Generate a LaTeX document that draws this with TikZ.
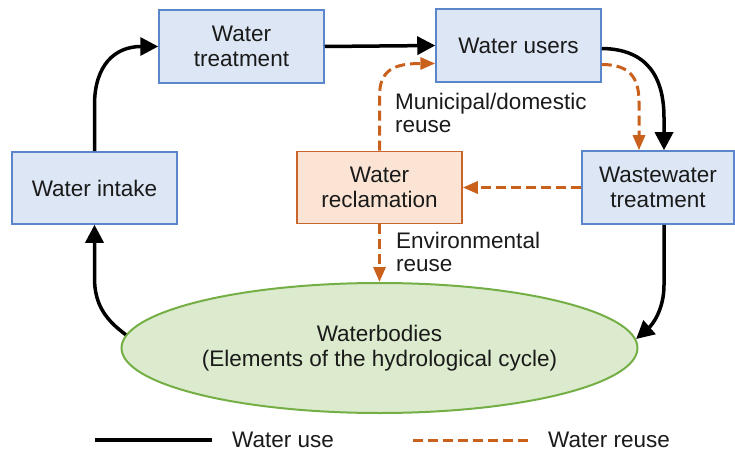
\documentclass[tikz,border=0pt]{standalone}
\usepackage{fontspec}
\setmainfont{Liberation Sans}
\usetikzlibrary{arrows.meta,shapes.geometric}
\definecolor{bfill}{HTML}{DCE6F4}
\definecolor{bdraw}{HTML}{5A86CC}
\definecolor{ofill}{HTML}{FCE4D4}
\definecolor{odraw}{HTML}{C8652A}
\definecolor{gfill}{HTML}{DCEBCD}
\definecolor{gdraw}{HTML}{74AF46}
\definecolor{oline}{HTML}{C9611C}
\definecolor{txt}{HTML}{1A1A1A}
\begin{document}
\begin{tikzpicture}[x=1pt,y=-1pt,
  every node/.style={text=txt, font=\fontsize{22.5}{25}\selectfont},
  bluebox/.style={draw=bdraw, fill=bfill, line width=1.5pt, minimum width=165pt, minimum height=73pt, align=center, inner sep=0pt},
  orangebox/.style={draw=odraw, fill=ofill, line width=1.5pt, minimum width=165pt, minimum height=72pt, align=center, inner sep=0pt},
  waterbody/.style={ellipse, draw=gdraw, fill=gfill, line width=2pt, minimum width=516pt, minimum height=130pt, align=center, inner sep=0pt},
  useline/.style={draw=black, line width=3.5pt, -{Triangle[length=18pt 0,width=18pt 0]}},
  reuseline/.style={draw=oline, line width=3pt, dash pattern=on 10pt off 5pt, -{Triangle[length=15pt 0,width=12pt 0]}},
  lbl/.style={align=left, inner sep=0pt, font=\fontsize{22.5}{23}\selectfont}
]
\useasboundingbox (0,0) rectangle (735,454);

\node[bluebox] (treat) at (241.5,46.5) {Water\\treatment};
\node[bluebox] (users) at (518.5,45.5) {Water users};
\node[bluebox, minimum height=72pt] (intake) at (94.5,188) {Water intake};
\node[orangebox] (recl) at (379.5,187.5) {Water\\reclamation};
\node[bluebox, minimum width=152pt] (waste) at (658,187.5) {Wastewater\\treatment};
\node[waterbody] (wb) at (379.5,348) {Waterbodies\\(Elements of the hydrological cycle)};

% water use
\draw[useline] (intake.north) -- (94.5,105) .. controls (94.5,65) and (115,46.5) .. (treat.west);
\draw[useline] (treat.east) -- (users.west);
\draw[useline] ([yshift=-3pt]users.east) .. controls (648,49) and (664,78) .. (664,118) -- ([xshift=6pt]waste.north);
\draw[useline] ([xshift=6pt]waste.south) -- (664,285) .. controls (664,310) and (652,325) .. (wb.2.5);
\draw[useline] (wb.177.5) .. controls (106,320) and (94.5,305) .. (94.5,278) -- (intake.south);

% water reuse
\draw[reuseline] ([yshift=-19pt]users.east) .. controls (630,64.5) and (639,78) .. (639,102) -- ([xshift=-19pt]waste.north);
\draw[reuseline] (waste.west) -- (recl.east);
\draw[reuseline] (recl.north) -- (379.5,96) .. controls (379.5,70) and (394,63.5) .. ([yshift=-18pt]users.west);
\draw[reuseline] (recl.south) -- (wb.north);

\node[lbl, anchor=west] (lmun) at (395,113) {Municipal/domestic\\reuse};
\node[lbl, anchor=west] (lenv) at (396,252) {Environmental\\reuse};

% legend
\coordinate (la) at (95,440);
\coordinate (lb) at (212,440);
\coordinate (lc) at (413,440);
\coordinate (ld) at (530,440);
\draw[draw=black, line width=3.5pt] (la) -- (lb);
\draw[draw=oline, line width=3pt, dash pattern=on 10pt off 5pt] (lc) -- (ld);
\node[anchor=west, inner sep=0pt] (tuse) at (232,440) {Water use};
\node[anchor=west, inner sep=0pt] (treuse) at (548,440) {Water reuse};
\end{tikzpicture}
\end{document}
